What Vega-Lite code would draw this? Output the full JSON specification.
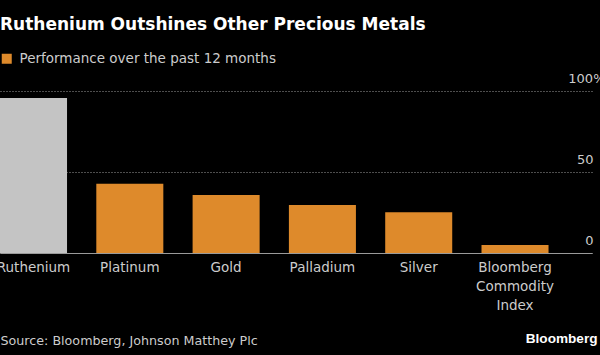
{
  "$schema": "https://vega.github.io/schema/vega-lite/v6.json",
  "width": 592,
  "height": 162,
  "autosize": {"type": "none"},
  "padding": {"left": 0, "top": 91, "right": 8, "bottom": 102},
  "background": "#000000",
  "title": {
    "text": "Ruthenium Outshines Other Precious Metals",
    "anchor": "start",
    "frame": "group",
    "font": "DejaVu Sans",
    "fontSize": 17,
    "fontWeight": "bold",
    "color": "#ffffff",
    "offset": 18
  },
  "data": {
    "values": [
      {"metal": "Ruthenium", "value": 95.7, "group": "Ruthenium"},
      {"metal": "Platinum", "value": 42.8, "group": "Performance over the past 12 months"},
      {"metal": "Gold", "value": 35.8, "group": "Performance over the past 12 months"},
      {"metal": "Palladium", "value": 29.6, "group": "Performance over the past 12 months"},
      {"metal": "Silver", "value": 25.1, "group": "Performance over the past 12 months"},
      {"metal": "Bloomberg Commodity Index", "value": 4.9, "group": "Performance over the past 12 months"}
    ]
  },
  "mark": {"type": "bar"},
  "encoding": {
    "x": {
      "field": "metal",
      "type": "nominal",
      "sort": null,
      "scale": {"paddingInner": 0.304, "paddingOuter": 0.2257, "align": 0},
      "axis": {
        "title": "Source: Bloomberg, Johnson Matthey Plc",
        "titleFont": "DejaVu Sans",
        "titleFontSize": 12.7,
        "titleFontWeight": "normal",
        "titleColor": "#cccccc",
        "titleAnchor": "start",
        "titleAlign": "left",
        "titleBaseline": "alphabetic",
        "titleX": 0,
        "titleY": 91,
        "labelAngle": 0,
        "labelFont": "DejaVu Sans",
        "labelFontSize": 13.5,
        "labelColor": "#cccccc",
        "labelBaseline": "top",
        "labelPadding": 7,
        "labelLineHeight": 19,
        "labelExpr": "datum.value == 'Bloomberg Commodity Index' ? ['Bloomberg', 'Commodity', 'Index'] : datum.label",
        "ticks": false,
        "tickSize": 0,
        "domain": true,
        "domainColor": "#9a9a9a",
        "domainWidth": 1,
        "grid": false,
        "labelOverlap": false
      }
    },
    "y": {
      "field": "value",
      "type": "quantitative",
      "scale": {"domain": [0, 100], "nice": false},
      "axis": {
        "orient": "right",
        "values": [0, 50, 100],
        "title": "Bloomberg",
        "titleAngle": 0,
        "titleFont": "Liberation Sans",
        "titleFontSize": 13.6,
        "titleFontWeight": "bold",
        "titleColor": "#ffffff",
        "titleAlign": "right",
        "titleBaseline": "alphabetic",
        "titleX": 5,
        "titleY": 251,
        "labelExpr": "datum.value == 100 ? '100%' : datum.label",
        "labelFont": "DejaVu Sans",
        "labelFontSize": 13,
        "labelColor": "#cccccc",
        "labelAlign": "right",
        "labelBaseline": "alphabetic",
        "labelOffset": -9,
        "labelPadding": {"condition": {"test": "datum.value == 100", "value": 13}, "value": 1},
        "ticks": false,
        "tickSize": 0,
        "domain": false,
        "grid": true,
        "gridColor": "#9a9a9a",
        "gridDash": [1, 2],
        "gridWidth": 1
      }
    },
    "color": {
      "field": "group",
      "type": "nominal",
      "scale": {
        "domain": ["Performance over the past 12 months", "Ruthenium"],
        "range": ["#de8a2b", "#c4c4c4"]
      },
      "legend": {
        "values": ["Performance over the past 12 months"],
        "title": null,
        "orient": "none",
        "legendX": 0,
        "legendY": -39,
        "symbolType": "square",
        "symbolSize": 100,
        "symbolStrokeWidth": 0,
        "symbolOpacity": 1,
        "labelFont": "DejaVu Sans",
        "labelFontSize": 13.5,
        "labelColor": "#cccccc",
        "labelOffset": 6,
        "labelLimit": 0,
        "padding": 0
      }
    }
  },
  "config": {
    "view": {"stroke": null}
  }
}
